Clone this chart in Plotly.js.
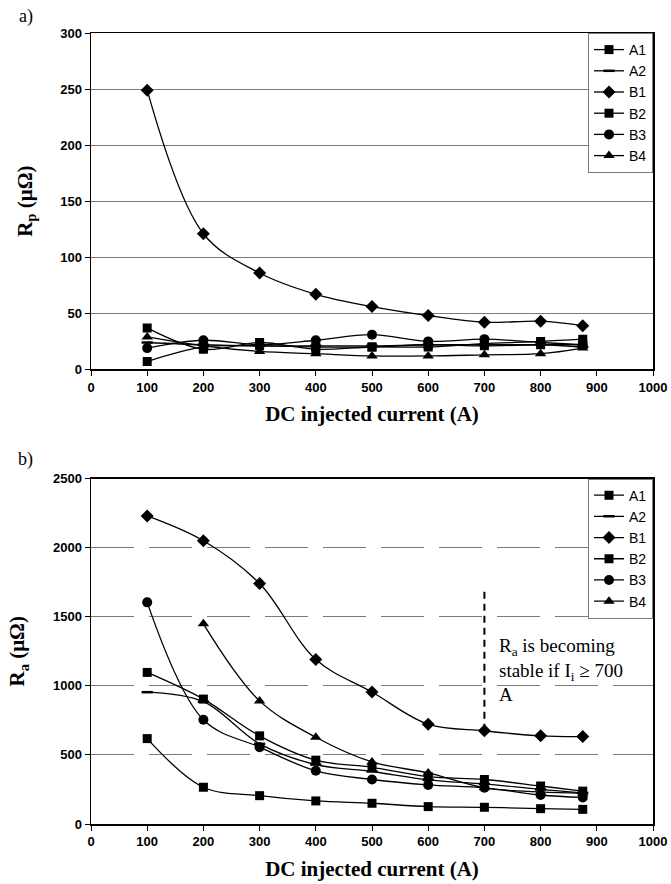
<!DOCTYPE html>
<html>
<head>
<meta charset="utf-8">
<script src="https://cdn.plot.ly/plotly-3.0.1.min.js"></script>
<style>
  html, body { margin: 0; padding: 0; background: #ffffff; }
  #chart { width: 671px; height: 884px; }
</style>
</head>
<body>
<div id="chart"></div>
<script>
// ---------- data ----------
const currents = [100, 200, 300, 400, 500, 600, 700, 800, 875];
const seriesNames = ["A1", "A2", "B1", "B2", "B3", "B4"];

// a) Rp (micro-ohm)
const rpA1 = [7, 20, 21, 20, 20, 22, 21, 22, 22];
const rpA2 = [24, 22, 21, 21, 21, 22, 22, 22, 20];
const rpB1 = [249, 121, 86, 67, 56, 48, 42, 43, 39];
const rpB2 = [37, 18, 24, 18, 20, 20, 23, 25, 27];
const rpB3 = [19, 26, 22, 26, 31, 25, 27, 24, 22];
const rpB4 = [29, 21, 16, 14, 12, 12, 13, 14, 19];

// b) Ra (micro-ohm)
const raA1 = [618, 266, 205, 167, 150, 126, 121, 111, 106];
const raA2 = [954, 885, 580, 430, 380, 320, 290, 250, 225];
const raB1 = [2230, 2050, 1740, 1190, 955, 722, 674, 638, 633];
const raB2 = [1097, 904, 638, 462, 410, 343, 322, 275, 238];
const raB3 = [1604, 754, 556, 385, 322, 283, 262, 210, 192];
const raB4 = [null, 1449, 891, 628, 449, 370, 262, 232, 222];

// axis ticks
const xTicks = [0, 100, 200, 300, 400, 500, 600, 700, 800, 900, 1000];
const rpTicks = [0, 50, 100, 150, 200, 250, 300];
const raTicks = [0, 500, 1000, 1500, 2000, 2500];

// annotation
const noteX = 700;
const noteTopY = 1680;
const noteText = "R<sub>a</sub> is becoming<br>stable if I<sub>i</sub> \u2265 700<br>A";

// ---------- styles ----------
const markerStyles = {
  A1: {symbol: "square", size: 9},
  A2: {symbol: "line-ew", size: 8},
  B1: {symbol: "diamond", size: 10},
  B2: {symbol: "square", size: 9},
  B3: {symbol: "circle", size: 10},
  B4: {symbol: "triangle-up", size: 10}
};

function makeTrace(name, ys, xa, ya, legendId) {
  const ms = markerStyles[name];
  const marker = {symbol: ms.symbol, size: ms.size, color: "#000000"};
  if (ms.symbol === "line-ew") marker.line = {color: "#000000", width: 2.5};
  return {
    type: "scatter", mode: "lines+markers", name: name,
    x: currents, y: ys, xaxis: xa, yaxis: ya, legend: legendId,
    connectgaps: false,
    line: {color: "#000000", width: 1.3, shape: "spline", smoothing: 1},
    marker: marker
  };
}

const rpData = {A1: rpA1, A2: rpA2, B1: rpB1, B2: rpB2, B3: rpB3, B4: rpB4};
const raData = {A1: raA1, A2: raA2, B1: raB1, B2: raB2, B3: raB3, B4: raB4};

const traces = [];
seriesNames.forEach(n => traces.push(makeTrace(n, rpData[n], "x", "y", "legend")));
seriesNames.forEach(n => traces.push(makeTrace(n, raData[n], "x2", "y2", "legend2")));

const tickFont = {family: "Liberation Sans, Arial, sans-serif", size: 13, color: "#000000", weight: "bold"};
const titleFont = {family: "Liberation Serif, Times New Roman, serif", size: 21, color: "#000000", weight: "bold"};

function xAxis(anchor) {
  return {
    anchor: anchor, domain: [0, 1], range: [0, 1000],
    tickvals: xTicks, ticktext: xTicks.map(String),
    ticks: "outside", ticklen: 5, tickwidth: 1, tickcolor: "#000000",
    showline: true, linecolor: "#000000", linewidth: 1.5, mirror: true,
    showgrid: false, zeroline: false, tickfont: tickFont,
    title: {text: "DC injected current (A)", font: titleFont, standoff: 13}
  };
}

function yAxis(anchor, domain, range, ticks, title, dash) {
  return {
    anchor: anchor, domain: domain, range: range,
    tickvals: ticks, ticktext: ticks.map(String),
    ticks: "outside", ticklen: 5, tickwidth: 1, tickcolor: "#000000",
    showline: true, linecolor: "#000000", linewidth: 1.5, mirror: true,
    showgrid: true, gridcolor: "#7a7a7a", gridwidth: 1, griddash: dash,
    zeroline: false, tickfont: tickFont,
    title: {text: title, font: titleFont, standoff: 22}
  };
}

const legendBase = {
  bgcolor: "#ffffff", bordercolor: "#7a7a7a", borderwidth: 1,
  font: {family: "Liberation Sans, Arial, sans-serif", size: 14, color: "#000000"},
  xref: "paper", yref: "paper", xanchor: "right", yanchor: "top",
  itemwidth: 30, tracegroupgap: 0
};

const layout = {
  width: 671, height: 884,
  margin: {l: 91, r: 18, t: 33, b: 60},
  paper_bgcolor: "#ffffff", plot_bgcolor: "#ffffff",
  showlegend: true,
  xaxis: xAxis("y"),
  yaxis: yAxis("x", [0.5747, 1], [0, 300], rpTicks, "R<sub>p</sub> (\u03BC\u03A9)", "solid"),
  xaxis2: xAxis("y2"),
  yaxis2: yAxis("x2", [0, 0.4367], [0, 2500], raTicks, "R<sub>a</sub> (\u03BC\u03A9)", "43px,15px"),
  legend: Object.assign({}, legendBase, {x: 1, y: 1}),
  legend2: Object.assign({}, legendBase, {x: 1, y: 0.4367}),
  shapes: [{
    type: "line", xref: "x2", yref: "y2",
    x0: noteX, x1: noteX, y0: noteTopY, y1: raB1[currents.indexOf(noteX)],
    line: {color: "#000000", width: 2, dash: "7px,5px"}
  }],
  annotations: [
    {text: "a)", xref: "paper", yref: "paper", x: -0.1314, y: 1.0203, xanchor: "left", yanchor: "middle",
     showarrow: false, font: {family: "Liberation Serif, Times New Roman, serif", size: 18, color: "#000000"}},
    {text: "b)", xref: "paper", yref: "paper", x: -0.134, y: 0.4608, xanchor: "left", yanchor: "middle",
     showarrow: false, font: {family: "Liberation Serif, Times New Roman, serif", size: 18, color: "#000000"}},
    {text: noteText, xref: "x2", yref: "y2", x: 723, y: 1116, xanchor: "left", yanchor: "middle", align: "left",
     showarrow: false, font: {family: "Liberation Serif, Times New Roman, serif", size: 19, color: "#000000"}}
  ]
};

Plotly.newPlot("chart", traces, layout, {displayModeBar: false, staticPlot: true});
</script>
</body>
</html>
